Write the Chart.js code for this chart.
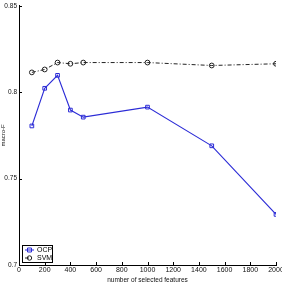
<!DOCTYPE html>
<html>
<head>
<meta charset="utf-8">
<script src="https://cdn.jsdelivr.net/npm/chart.js@4.4.0/dist/chart.umd.min.js"></script>
<style>
  html, body { margin: 0; padding: 0; background: #fff; }
  #wrap { width: 282px; height: 286px; }
</style>
</head>
<body>
<div id="wrap"><canvas id="chart" width="282" height="286"></canvas></div>
<script>
// number of selected features
var features = [100, 200, 300, 400, 500, 1000, 1500, 2000];
var ocpValues = [0.7805, 0.8023, 0.8098, 0.7897, 0.7856, 0.7914, 0.769, 0.7293];
var svmValues = [0.8115, 0.8132, 0.8172, 0.8165, 0.8172, 0.8172, 0.8155, 0.8165];
var xTicks = [0, 200, 400, 600, 800, 1000, 1200, 1400, 1600, 1800, 2000];
var yTicks = [0.7, 0.75, 0.8, 0.85];

function toPoints(xs, ys) {
    return xs.map(function(x, i) { return { x: x, y: ys[i] }; });
}

var FONT = 'Liberation Sans, Arial, sans-serif';

// small inward ticks + legend box like matlab
var matlabBits = {
    id: 'matlabBits',
    afterDraw: function(chart) {
        var ctx = chart.ctx;
        var xs = chart.scales.x, ys = chart.scales.y;
        var area = chart.chartArea;
        ctx.save();
        ctx.strokeStyle = '#000';
        ctx.lineWidth = 1;
        ctx.beginPath();
        xTicks.forEach(function(t) {
            var px = Math.round(xs.getPixelForValue(t)) + 0.5;
            ctx.moveTo(px, area.bottom);
            ctx.lineTo(px, area.bottom - 3);
        });
        yTicks.forEach(function(t) {
            var py = Math.round(ys.getPixelForValue(t)) + 0.5;
            ctx.moveTo(area.left, py);
            ctx.lineTo(area.left + 3, py);
        });
        ctx.stroke();

        // legend
        var bx = area.left + 3, by = area.bottom - 20, bw = 30, bh = 17;
        ctx.fillStyle = '#fff';
        ctx.fillRect(bx, by, bw, bh);
        ctx.strokeStyle = '#000';
        ctx.strokeRect(bx + 0.5, by + 0.5, bw, bh);
        ctx.font = '7px ' + FONT;
        ctx.textBaseline = 'middle';
        chart.data.datasets.forEach(function(ds, i) {
            var ly = by + 5 + i * 8;
            ctx.strokeStyle = ds.borderColor;
            ctx.setLineDash(ds.borderDash || []);
            ctx.beginPath();
            ctx.moveTo(bx + 3, ly);
            ctx.lineTo(bx + 12, ly);
            ctx.stroke();
            ctx.setLineDash([]);
            ctx.beginPath();
            if (ds.pointStyle === 'rect') {
                ctx.rect(bx + 5.5, ly - 2, 4, 4);
            } else {
                ctx.arc(bx + 7.5, ly, 2.2, 0, Math.PI * 2);
            }
            ctx.stroke();
            ctx.fillStyle = '#000';
            ctx.fillText(ds.label, bx + 15, ly + 0.5);
        });
        ctx.restore();
    }
};

var ctx = document.getElementById('chart').getContext('2d');
var chart = new Chart(ctx, {
    type: 'scatter',
    data: {
        datasets: [{
            label: 'OCP',
            data: toPoints(features, ocpValues),
            showLine: true,
            borderColor: '#2b2bd6',
            backgroundColor: 'rgba(0,0,0,0)',
            borderWidth: 1.1,
            pointStyle: 'rect',
            pointRadius: 2.6,
            pointBorderWidth: 1,
            pointBorderColor: '#2b2bd6',
            tension: 0
        }, {
            label: 'SVM',
            data: toPoints(features, svmValues),
            showLine: true,
            borderColor: '#222',
            backgroundColor: 'rgba(0,0,0,0)',
            borderWidth: 1,
            borderDash: [4, 2, 1, 2],
            pointStyle: 'circle',
            pointRadius: 2.4,
            pointBorderWidth: 1,
            pointBorderColor: '#222',
            tension: 0
        }]
    },
    options: {
        responsive: false,
        animation: false,
        layout: { padding: { top: 4, right: 6, left: 0, bottom: 2 } },
        plugins: {
            legend: { display: false },
            tooltip: { enabled: false }
        },
        scales: {
            x: {
                type: 'linear',
                min: 0,
                max: 2000,
                afterBuildTicks: function(s) { s.ticks = xTicks.map(function(v) { return { value: v }; }); },
                afterFit: function(s) { s.height = 19; s.paddingRight = 0; },
                grid: { display: false, drawTicks: false },
                border: { display: true, color: '#000', width: 1 },
                ticks: {
                    color: '#111',
                    font: { family: FONT, size: 7 },
                    padding: 1,
                    maxRotation: 0,
                    autoSkip: false,
                    callback: function(v) { return String(v); }
                },
                title: {
                    display: true,
                    text: 'number of selected features',
                    color: '#111',
                    font: { family: FONT, size: 6.5 },
                    padding: { top: 0, bottom: 0 }
                }
            },
            y: {
                min: 0.7,
                max: 0.85,
                afterBuildTicks: function(s) { s.ticks = yTicks.map(function(v) { return { value: v }; }); },
                afterFit: function(s) { s.width = 19; },
                grid: { display: false, drawTicks: false },
                border: { display: true, color: '#000', width: 1 },
                ticks: {
                    color: '#111',
                    font: { family: FONT, size: 6.5 },
                    padding: 2,
                    autoSkip: false,
                    callback: function(v) { return String(Math.round(v * 100) / 100); }
                },
                title: {
                    display: true,
                    text: 'macro-F',
                    color: '#111',
                    font: { family: FONT, size: 6 },
                    padding: { top: 0, bottom: 0 }
                }
            }
        }
    },
    plugins: [matlabBits]
});
</script>
</body>
</html>
